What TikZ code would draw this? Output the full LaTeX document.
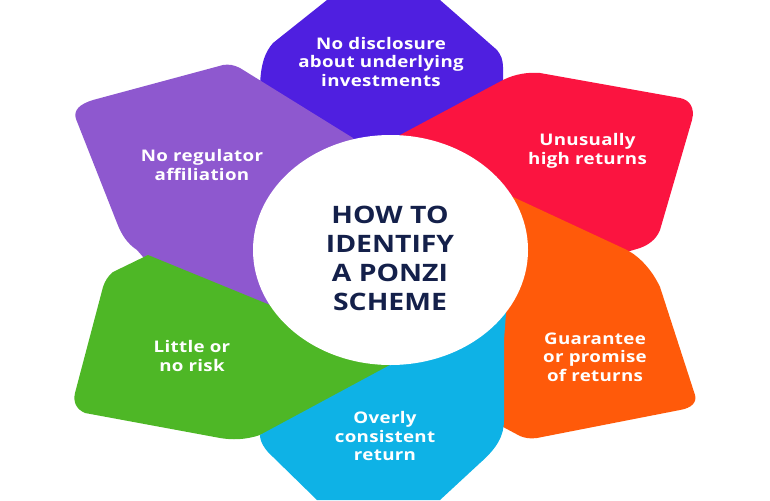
\documentclass[tikz,border=0pt]{standalone}
\usepackage{fontspec}
\setmainfont{Open Sans}
\newfontfamily\petalfont[FakeStretch=1.17,LetterSpace=2]{Open Sans}
\newfontfamily\hubfont[FakeStretch=1.18]{Open Sans}
\definecolor{indigo}{HTML}{4F1FE0}
\definecolor{crimson}{HTML}{FB1440}
\definecolor{tangerine}{HTML}{FF5A0A}
\definecolor{skyblue}{HTML}{0EB2E6}
\definecolor{leaf}{HTML}{4EB726}
\definecolor{violet}{HTML}{8E58CF}
\definecolor{navy}{HTML}{14204A}
\tikzset{
    petallabel/.style={text=white, align=center, font=\petalfont\fontsize{16}{18.5}\selectfont\bfseries},
    hublabel/.style={text=navy, align=center, font=\hubfont\fontsize{24}{29}\selectfont\bfseries}
}

\begin{document}
\begin{tikzpicture}[x=1pt, y=-1pt]
    \useasboundingbox (0,0) rectangle (770,500);

    % petals, back to front
    \fill[indigo] (327,0) -- (273,43) .. controls (265,52) and (260,65) .. (260,90)
        -- (390,250) -- (503,90) -- (503,67) .. controls (503,60) and (501,55) .. (497,50) -- (440,0) -- cycle;
    \fill[violet] (353,138) -- (240,68) .. controls (234,65) and (229,64) .. (223,65) -- (93,100)
        .. controls (80,104) and (73,110) .. (76,119) -- (117,223) .. controls (122,236) and (128,244) .. (137,250)
        -- (150,265) -- (280,315) -- (390,250) -- cycle;
    \fill[crimson] (400,135) -- (503,80) .. controls (515,74) and (528,72) .. (540,73) -- (680,98)
        .. controls (690,100) and (695,108) .. (692,120) -- (660,230) .. controls (656,240) and (648,245) .. (640,248)
        -- (600,260) -- (390,250) -- cycle;
    \fill[leaf] (270,305) -- (148,255) -- (113,272) .. controls (108,276) and (105,281) .. (103,287) -- (75,393)
        .. controls (73,402) and (76,409) .. (85,413) -- (220,438) .. controls (232,440) and (245,440) .. (260,435)
        -- (400,380) -- (390,250) -- cycle;
    \fill[tangerine] (513,197) -- (627,250) .. controls (640,257) and (652,270) .. (660,287) -- (695,395)
        .. controls (697,402) and (692,408) .. (680,410) -- (537,438) .. controls (530,439) and (525,438) .. (520,436)
        -- (490,420) -- (390,250) -- cycle;
    \fill[skyblue] (390,365) -- (260,435) .. controls (260,442) and (265,450) .. (273,457) -- (317,500) -- (440,500)
        -- (480,463) .. controls (497,448) and (504,436) .. (504,420) -- (504,340) -- (507,300) -- (390,250) -- cycle;

    % centre disc
    \fill[white] (390.5,250) ellipse (137.5 and 115);
    \node[hublabel] (hub) at (390,258) {HOW TO\\IDENTIFY\\A PONZI\\SCHEME};

    % one label per petal
    \foreach \petalname/\xpos/\ypos/\petaltext in {
        disclosure/381/62/{No disclosure\\about underlying\\investments},
        returns/587.5/151/{Unusually\\high returns},
        guarantee/595/357/{Guarantee\\or promise\\of returns},
        consistent/385/436/{Overly\\consistent\\return},
        risk/192/356/{Little or\\no risk},
        regulator/202/165/{No regulator\\affiliation}} {
        \node[petallabel] (\petalname) at (\xpos,\ypos) {\petaltext};
    }
\end{tikzpicture}
\end{document}
